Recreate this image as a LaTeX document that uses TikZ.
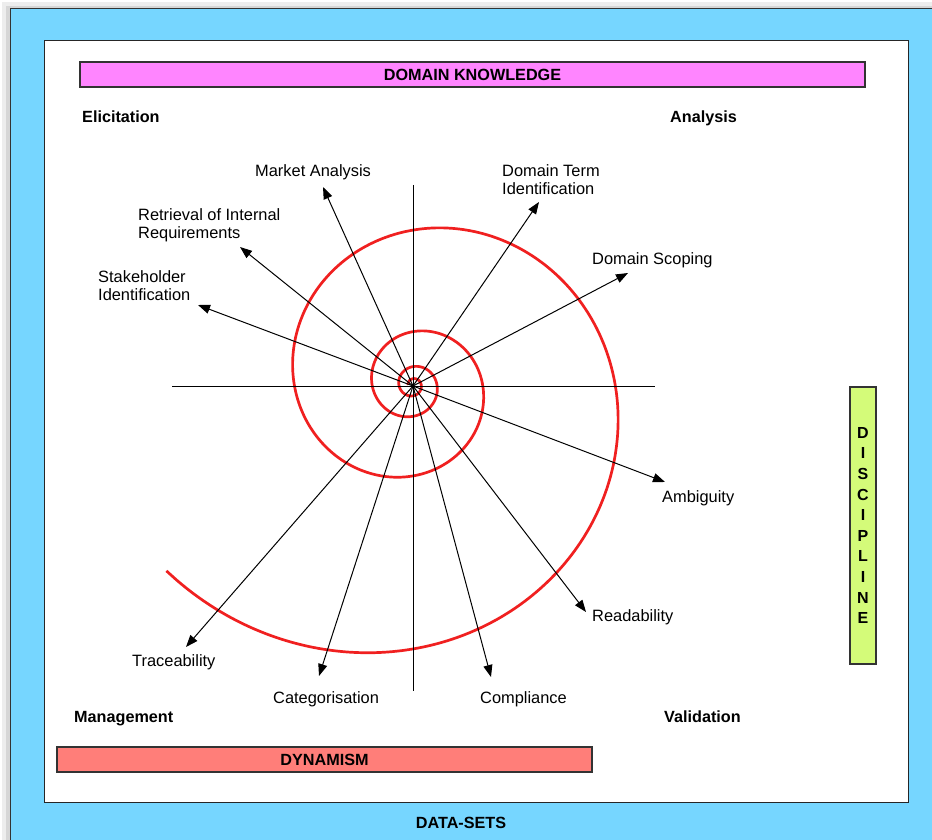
\documentclass[tikz,border=0pt]{standalone}
\usepackage{fontspec}
\setmainfont{Liberation Sans}
\usetikzlibrary{arrows.meta}
\definecolor{skyc}{HTML}{76D6FF}
\definecolor{pinkc}{HTML}{FF85FF}
\definecolor{salmonc}{HTML}{FF7E79}
\definecolor{greenc}{HTML}{D4FB79}
\definecolor{spiralc}{RGB}{240,32,32}
\begin{document}
\begin{tikzpicture}[x=1pt,y=-1pt,
  lbl/.style={font=\fontsize{16.4}{18.5}\selectfont, inner sep=0pt},
  hdr/.style={font=\bfseries\fontsize{16.2}{19}\selectfont, inner sep=0pt},
  band/.style={draw=black!80, line width=1.2pt, inner sep=0pt, font=\bfseries\fontsize{16.2}{19}\selectfont},
  arr/.style={-{Triangle[length=12pt,width=9pt]}, line width=1pt},
  axisline/.style={line width=1pt},
  spiralline/.style={draw=spiralc, line width=2.7pt}]
\useasboundingbox (0,0) rectangle (932,840);
% outer background with shadow
\fill[black!7] (2,2) rectangle (945,855);
\fill[black!16] (6,6) rectangle (945,855);
\draw[fill=skyc, draw=black!80, line width=1pt] (10,9) rectangle (945,855);
% inner panel
\draw[fill=white, draw=black!85, line width=1pt] (44,41) rectangle (908,802);
% bands
\node[band, fill=pinkc, minimum width=785pt, minimum height=25pt] (dk) at (472.5,74.5) {DOMAIN KNOWLEDGE};
\node[band, fill=salmonc, minimum width=535pt, minimum height=25pt] (dyn) at (324.5,759.5) {DYNAMISM};
\node[band, fill=greenc, minimum width=26pt, minimum height=277pt, align=center, font=\bfseries\fontsize{16}{20.6}\selectfont] (disc) at (863,525.5) {D\\I\\S\\C\\I\\P\\L\\I\\N\\E};
% corner headings
\node[hdr, anchor=base west] (eli) at (82,123) {Elicitation};
\node[hdr, anchor=base west] (ana) at (670,123) {Analysis};
\node[hdr, anchor=base west] (man) at (74,722) {Management};
\node[hdr, anchor=base west] (val) at (664,722) {Validation};
\node[hdr, anchor=base] (data) at (461,828) {DATA-SETS};
% spiral
\draw[spiralline] plot[domain=-540:863, samples=500, smooth, variable=\t]
  ({413+24*exp(0.002958*\t)*cos(\t)}, {385+24*exp(0.002958*\t)*sin(\t)});
% axes
\coordinate (c) at (413,386);
\coordinate (hl) at (172,386);
\coordinate (hr) at (655,386);
\coordinate (vt) at (413,185);
\coordinate (vb) at (413,691);
\draw[axisline] (hl) -- (hr);
\draw[axisline] (vt) -- (vb);
% labels
\node[lbl, anchor=base west] (ma) at (255,176) {Market Analysis};
\node[lbl, anchor=north west, align=left] (rir) at (138,208.3) {Retrieval of Internal\\Requirements};
\node[lbl, anchor=north west, align=left] (si) at (98,270.3) {Stakeholder\\Identification};
\node[lbl, anchor=north west, align=left] (dti) at (502,164.3) {Domain Term\\Identification};
\node[lbl, anchor=base west] (ds) at (592,264) {Domain Scoping};
\node[lbl, anchor=base west] (amb) at (662,502) {Ambiguity};
\node[lbl, anchor=base west] (rd) at (592,621) {Readability};
\node[lbl, anchor=base west] (cp) at (480,703) {Compliance};
\node[lbl, anchor=base west] (ct) at (273,703) {Categorisation};
\node[lbl, anchor=base west] (tr) at (132,666) {Traceability};
% arrow tips
\coordinate (tma) at (323,187);
\coordinate (trir) at (240,247);
\coordinate (tsi) at (198,305);
\coordinate (tdti) at (539,202);
\coordinate (tds) at (628,273);
\coordinate (tamb) at (665,482);
\coordinate (trd) at (586,612);
\coordinate (tcp) at (491,677);
\coordinate (ttr) at (186,647);
\coordinate (tct) at (319,676);
\foreach \p in {tma,trir,tsi,tdti,tds,tamb,trd,tcp,ttr,tct}
  \draw[arr] (c) -- (\p);
\end{tikzpicture}
\end{document}
